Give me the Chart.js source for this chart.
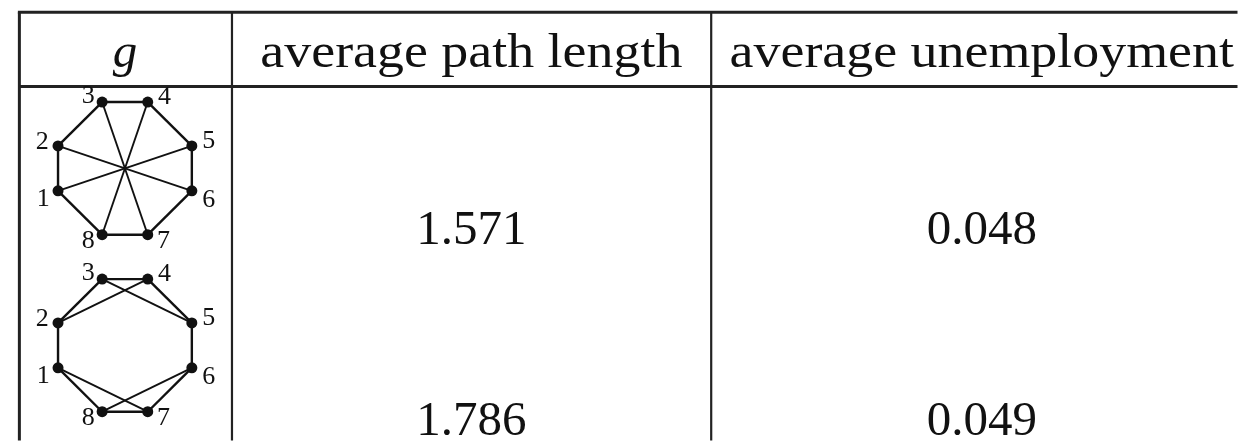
<!DOCTYPE html>
<html>
<head>
<meta charset="utf-8">
<title>Average path length and unemployment by network</title>
<script src="https://cdn.jsdelivr.net/npm/chart.js@4.4.1/dist/chart.umd.min.js"></script>
<style>
  html, body { margin: 0; padding: 0; background: #ffffff; }
  #wrap { width: 1243px; height: 446px; position: relative; }
  canvas { display: block; }
</style>
</head>
<body>
<div id="wrap"><canvas id="c" width="1243" height="446"></canvas></div>
<script>
// ---- table content ----
const headerLabels = ['g', 'average path length', 'average unemployment'];
const avgPathLength = [1.571, 1.786];
const avgUnemployment = [0.048, 0.049];

// ---- the two eight-worker networks ----
const nodeIds = [1, 2, 3, 4, 5, 6, 7, 8];
const edgesFirst = [[1, 2], [2, 3], [3, 4], [4, 5], [5, 6], [6, 7], [7, 8], [8, 1],
                    [1, 5], [2, 6], [3, 7], [4, 8]];
const edgesSecond = [[1, 2], [2, 3], [2, 4], [3, 4], [3, 5], [4, 5], [5, 6],
                     [1, 8], [1, 7], [6, 8], [6, 7], [7, 8]];
const networks = [edgesFirst, edgesSecond];

// ---- layout (canvas units: x 0..1243, y 0..446 top-down) ----
const W = 1243, H = 446;
const colX = [14, 228.5, 712];            // left border and column rules
const ruleTop = 7, ruleHead = 83;
const textCenterX = [120.5, 470, 985];
const headBaseline = 63;
const rowBaseline = [245, 440];
const graphCenter = [[120.5, 167], [120.5, 348.5]];
// octagon placement of the nodes around each centre
const octagon = {
  1: [-67.5, 23], 2: [-67.5, -23], 3: [-23, -68], 4: [23, -68],
  5: [67.5, -23], 6: [67.5, 23], 7: [23, 68], 8: [-23, 68]
};
// where each node number is written relative to its dot
const labelOffset = {
  1: [-15, 9], 2: [-16, -4], 3: [-14, -6], 4: [17, -5],
  5: [17, -5], 6: [17, 10], 7: [16, 7], 8: [-14, 7]
};

const INK = '#111111';
const SERIF = '"Liberation Serif", "Times New Roman", serif';

function nodePos(g, id) {
  const c = graphCenter[g], o = octagon[id];
  return { x: c[0] + o[0], y: c[1] + o[1] };
}

// edges of the outer ring are drawn a little heavier than chords
function isRingEdge(a, b) {
  const d = Math.abs(a - b);
  return d === 1 || d === 7;
}

// one line dataset per edge, one point dataset per network
const datasets = [];
networks.forEach((edges, g) => {
  edges.forEach(([a, b]) => {
    datasets.push({
      data: [nodePos(g, a), nodePos(g, b)],
      showLine: true,
      borderColor: INK,
      borderWidth: isRingEdge(a, b) ? 2.4 : 1.9,
      pointRadius: 0,
      pointHoverRadius: 0,
      fill: false
    });
  });
  datasets.push({
    data: nodeIds.map(id => nodePos(g, id)),
    showLine: false,
    pointRadius: 5.5,
    pointHoverRadius: 5.5,
    pointBackgroundColor: INK,
    pointBorderColor: INK,
    pointBorderWidth: 0
  });
});

const tablePlugin = {
  id: 'tablePlugin',
  beforeDraw(chart) {
    const ctx = chart.ctx;
    ctx.save();
    ctx.fillStyle = '#ffffff';
    ctx.fillRect(0, 0, chart.width, chart.height);
    ctx.restore();
  },
  beforeDatasetsDraw(chart) {
    const { ctx, scales: { x, y } } = chart;
    const px = v => x.getPixelForValue(v);
    const py = v => y.getPixelForValue(v);
    ctx.save();
    ctx.strokeStyle = '#222222';
    // top rule
    ctx.lineWidth = 3;
    ctx.beginPath();
    ctx.moveTo(px(colX[0]) - 1.5, py(ruleTop));
    ctx.lineTo(px(W), py(ruleTop));
    ctx.stroke();
    // header rule
    ctx.lineWidth = 3;
    ctx.beginPath();
    ctx.moveTo(px(colX[0]), py(ruleHead));
    ctx.lineTo(px(W), py(ruleHead));
    ctx.stroke();
    // vertical rules
    colX.forEach((cx, i) => {
      ctx.lineWidth = i === 0 ? 3 : 2.2;
      ctx.beginPath();
      ctx.moveTo(px(cx), py(ruleTop));
      ctx.lineTo(px(cx), py(H));
      ctx.stroke();
    });

    // header texts
    ctx.fillStyle = INK;
    ctx.textAlign = 'center';
    ctx.textBaseline = 'alphabetic';
    headerLabels.forEach((t, i) => {
      ctx.save();
      ctx.translate(px(textCenterX[i]), py(headBaseline));
      if (i === 0) {
        ctx.font = 'italic 49px ' + SERIF;
      } else {
        ctx.font = '49px ' + SERIF;
        ctx.scale(1.1, 1);
      }
      ctx.fillText(t, 0, 0);
      ctx.restore();
    });

    // values
    ctx.font = '49px ' + SERIF;
    avgPathLength.forEach((v, r) => {
      ctx.fillText(v.toFixed(3), px(textCenterX[1]), py(rowBaseline[r]));
    });
    avgUnemployment.forEach((v, r) => {
      ctx.fillText(v.toFixed(3), px(textCenterX[2]), py(rowBaseline[r]));
    });
    ctx.restore();
  },
  afterDatasetsDraw(chart) {
    const { ctx, scales: { x, y } } = chart;
    ctx.save();
    ctx.fillStyle = INK;
    ctx.font = '26px ' + SERIF;
    ctx.textAlign = 'center';
    ctx.textBaseline = 'middle';
    networks.forEach((_, g) => {
      nodeIds.forEach(id => {
        const p = nodePos(g, id), o = labelOffset[id];
        ctx.fillText(String(id), x.getPixelForValue(p.x + o[0]), y.getPixelForValue(p.y + o[1]));
      });
    });
    ctx.restore();
  }
};

new Chart(document.getElementById('c'), {
  type: 'scatter',
  data: { datasets },
  options: {
    responsive: false,
    animation: false,
    events: [],
    layout: { padding: 0 },
    plugins: { legend: { display: false }, tooltip: { enabled: false } },
    scales: {
      x: { type: 'linear', min: 0, max: W, display: false },
      y: { type: 'linear', min: 0, max: H, reverse: true, display: false }
    }
  },
  plugins: [tablePlugin]
});
</script>
</body>
</html>
